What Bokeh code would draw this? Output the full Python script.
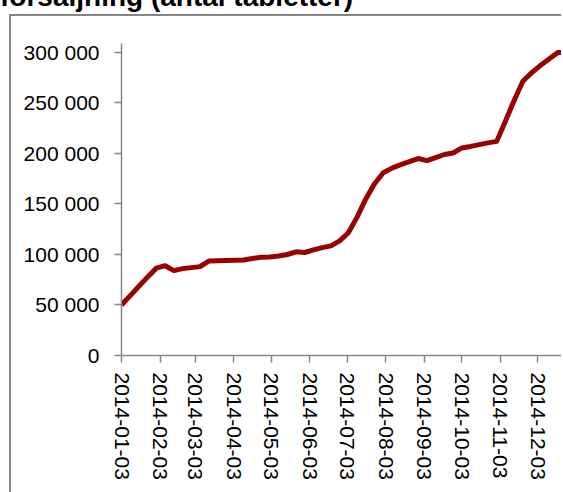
import pandas as pd
from datetime import datetime, timedelta
from bokeh.plotting import figure
from bokeh.layouts import column
from bokeh.models import Range1d, FixedTicker, DatetimeTickFormatter, Div
from bokeh.embed import file_html
from bokeh.resources import INLINE

# ---- data ----
title_text = "försäljning (antal tabletter)"
start_date = "2014-01-03"
sales = [50000, 59300, 68500, 77800, 86500, 88900, 84000, 86000, 87000, 88000,
         93500, 93800, 94000, 94200, 94500, 96000, 97200, 97600, 98500, 100000,
         102700, 102000, 104500, 106800, 108500, 113500, 121500, 137000, 155000, 170000,
         181000, 185500, 189000, 192000, 195000, 193000, 196000, 199000, 200500, 205500,
         207000, 208800, 210500, 212000, 232000, 252500, 271500, 280000, 287000, 293500,
         300000, 300000]
x_tick_labels = ["2014-01-03", "2014-02-03", "2014-03-03", "2014-04-03", "2014-05-03",
                 "2014-06-03", "2014-07-03", "2014-08-03", "2014-09-03", "2014-10-03",
                 "2014-11-03", "2014-12-03"]
y_ticks = [0, 50000, 100000, 150000, 200000, 250000, 300000]
y_tick_labels = ["0", "50 000", "100 000", "150 000", "200 000", "250 000", "300 000"]

dates = pd.date_range(start_date, periods=len(sales), freq="7D")

# ---- layout ----
font = "Liberation Sans"
axis_color = "#868686"

W, H = 552, 478
FRAME_LEFT, FRAME_TOP, FRAME_BOTTOM = 110, 27, 339

x0 = datetime(2014, 1, 3)
x1 = x0 + timedelta(days=354.6)

p = figure(width=W, height=H, output_backend="svg", toolbar_location=None,
           x_axis_type="datetime",
           x_range=Range1d(x0, x1), y_range=Range1d(0, 308900),
           min_border_left=FRAME_LEFT, min_border_right=0,
           min_border_top=FRAME_TOP, min_border_bottom=H - FRAME_BOTTOM)
p.styles = {"margin-left": "9px", "border-left": f"2px solid {axis_color}",
            "border-top": f"2px solid {axis_color}"}
p.outline_line_color = None
p.xgrid.grid_line_color = None
p.ygrid.grid_line_color = None
p.background_fill_color = "white"
p.border_fill_color = "white"

p.line(dates, sales, line_color="#990000", line_width=5, line_join="round")

xa = p.xaxis[0]
xa.ticker = FixedTicker(ticks=[pd.Timestamp(s).value / 1e6 for s in x_tick_labels])
fmt = "%Y-%m-%d"
xa.formatter = DatetimeTickFormatter(microseconds=fmt, milliseconds=fmt, seconds=fmt,
                                     minsec=fmt, minutes=fmt, hourmin=fmt, hours=fmt,
                                     days=fmt, months=fmt, years=fmt)
xa.major_label_orientation = "vertical"
xa.axis_line_color = axis_color
xa.axis_line_width = 1.5
xa.major_tick_line_color = axis_color
xa.major_tick_line_width = 1.5
xa.major_tick_out = 7
xa.major_tick_in = 0
xa.minor_tick_line_color = None
xa.major_label_text_font = font
xa.major_label_text_font_size = "21px"
xa.major_label_text_color = "black"
xa.major_label_standoff = 10

ya = p.yaxis[0]
ya.ticker = FixedTicker(ticks=y_ticks)
ya.major_label_overrides = {t: s for t, s in zip(y_ticks, y_tick_labels)}
ya.axis_line_color = axis_color
ya.axis_line_width = 1.5
ya.major_tick_line_color = axis_color
ya.major_tick_line_width = 1.5
ya.major_tick_out = 7
ya.major_tick_in = 0
ya.minor_tick_line_color = None
ya.major_label_text_font = font
ya.major_label_text_font_size = "21px"
ya.major_label_text_color = "black"
ya.major_label_standoff = 15

title = Div(text=title_text, width=563, height=24,
            styles={"font-family": font, "font-size": "28px", "font-weight": "bold",
                    "line-height": "24px", "white-space": "nowrap",
                    "text-indent": "-5px", "color": "black"})

layout = column(title, p, spacing=0, styles={"margin-top": "-20px"})

open("out.html", "w").write(file_html(layout, INLINE))
